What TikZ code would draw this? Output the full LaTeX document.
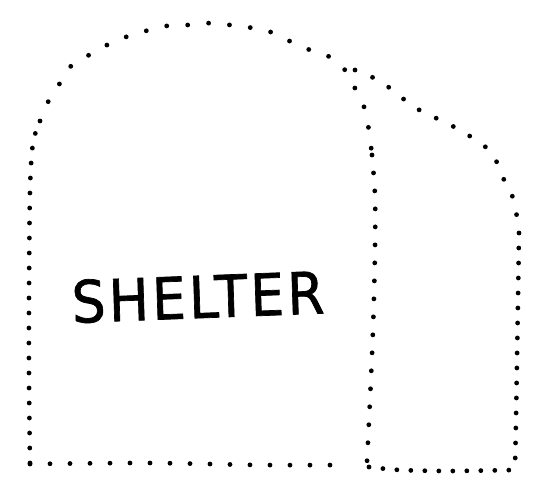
\documentclass[tikz,border=0pt]{standalone}
\usepackage{fontspec}
\newfontfamily\handfont[FakeBold=1.2,LetterSpace=6]{DejaVu Sans}
\begin{document}
\begin{tikzpicture}[x=1pt,y=-1pt,
  dots/.style={line width=4.8pt, line cap=round, dash pattern=on 0pt off #1},
  label/.style={font=\handfont\fontsize{58}{62}\selectfont, inner sep=0pt, xscale=0.92, rotate=2}]
\useasboundingbox (0,0) rectangle (536,484);
% left side
\draw[dots=15pt] plot[smooth] coordinates {(30,463) (29,380) (29,300) (30,190) (33,143) (40,121)};
% big arch
\draw[dots=21pt] plot[smooth] coordinates {(40,121) (48,102) (57,88) (70,67) (84,58) (105,46) (123,38) (142,32) (166,26) (188,25) (215,23) (242,27) (263,29) (285,39) (310,50) (328,56) (345,70) (352,83) (362,101) (366,115) (369,131) (372,155)};
% divider
\draw[dots=18pt] plot[smooth] coordinates {(372,155) (375,196) (375,250) (373,330) (370,400) (367,462)};
% bottom left
\draw[dots=20pt] plot[smooth] coordinates {(30,464) (150,463) (260,465) (348,465)};
% right arch
\draw[dots=19pt] plot[smooth] coordinates {(355,70) (378,80) (395,92) (414,107) (440,120) (460,130) (480,143) (492,153) (501,172) (506,185) (514,200) (517,218) (519,233)};
% right side
\draw[dots=15pt] plot[smooth] coordinates {(519,233) (518,300) (516,420) (515,468)};
% bottom right
\draw[dots=14pt] plot[smooth] coordinates {(369,467) (400,470) (450,471) (514,470)};
\node[label] (title) at (198,297) {SHELTER};
\end{tikzpicture}
\end{document}
